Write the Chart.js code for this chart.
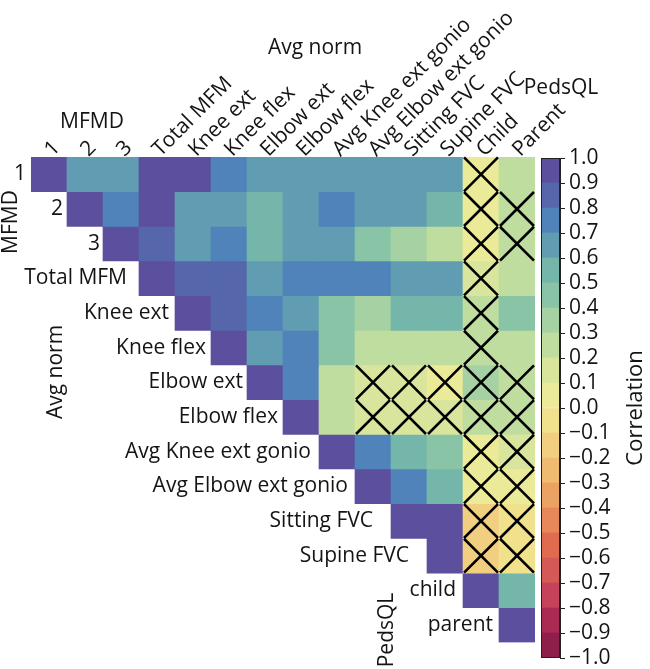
<!DOCTYPE html>
<html>
<head>
<meta charset="utf-8">
<script src="https://cdn.jsdelivr.net/npm/chart.js@4.4.1/dist/chart.umd.min.js"></script>
<style>
html,body{margin:0;padding:0;background:#fff;}
#wrap{position:relative;width:650px;height:669px;overflow:hidden;}
canvas{position:absolute;left:0;top:0;}
</style>
</head>
<body>
<div id="wrap">
<canvas id="main" width="650" height="669"></canvas>
<canvas id="cbar" width="650" height="669"></canvas>
</div>
<script>
// ---------------- DATA ----------------
const colLabels = ["1","2","3","Total MFM","Knee ext","Knee flex","Elbow ext","Elbow flex",
  "Avg Knee ext gonio","Avg Elbow ext gonio","Sitting FVC","Supine FVC","Child","Parent"];
const rowLabels = ["1","2","3","Total MFM","Knee ext","Knee flex","Elbow ext","Elbow flex",
  "Avg Knee ext gonio","Avg Elbow ext gonio","Sitting FVC","Supine FVC","child","parent"];

// upper-triangular correlation matrix (null = not shown)
const corrRow0  = [1.00,0.64,0.64,0.95,0.94,0.76,0.65,0.64,0.65,0.64,0.63,0.62,0.05,0.27];
const corrRow1  = [null,1.00,0.75,0.96,0.63,0.62,0.52,0.64,0.76,0.63,0.62,0.55,0.04,0.21];
const corrRow2  = [null,null,1.00,0.85,0.64,0.74,0.52,0.63,0.62,0.47,0.38,0.28,0.03,0.21];
const corrRow3  = [null,null,null,1.00,0.86,0.85,0.64,0.76,0.75,0.74,0.65,0.64,0.12,0.25];
const corrRow4  = [null,null,null,null,1.00,0.85,0.74,0.64,0.46,0.39,0.53,0.52,0.27,0.42];
const corrRow5  = [null,null,null,null,null,1.00,0.65,0.75,0.45,0.27,0.26,0.26,0.22,0.27];
const corrRow6  = [null,null,null,null,null,null,1.00,0.76,0.27,0.18,0.18,0.08,0.33,0.25];
const corrRow7  = [null,null,null,null,null,null,null,1.00,0.26,0.17,0.17,0.16,0.20,0.22];
const corrRow8  = [null,null,null,null,null,null,null,null,1.00,0.74,0.51,0.44,0.07,0.13];
const corrRow9  = [null,null,null,null,null,null,null,null,null,1.00,0.75,0.52,0.05,0.08];
const corrRow10 = [null,null,null,null,null,null,null,null,null,null,1.00,0.93,-0.17,-0.05];
const corrRow11 = [null,null,null,null,null,null,null,null,null,null,null,1.00,-0.18,-0.04];
const corrRow12 = [null,null,null,null,null,null,null,null,null,null,null,null,1.00,0.51];
const corrRow13 = [null,null,null,null,null,null,null,null,null,null,null,null,null,1.00];
const corr = [corrRow0,corrRow1,corrRow2,corrRow3,corrRow4,corrRow5,corrRow6,corrRow7,
  corrRow8,corrRow9,corrRow10,corrRow11,corrRow12,corrRow13];

// non-significant cells [row, col] (crossed out)
const notSignificant = [
  [0,12],[1,12],[1,13],[2,12],[2,13],[3,12],[4,12],[5,12],
  [6,9],[6,10],[6,11],[6,12],[6,13],
  [7,9],[7,10],[7,11],[7,12],[7,13],
  [8,12],[8,13],[9,12],[9,13],[10,12],[10,13],[11,12],[11,13]
];

// colour bar levels (from -1.0 to 1.0, step 0.1)
const levelEdges = [-1.0,-0.9,-0.8,-0.7,-0.6,-0.5,-0.4,-0.3,-0.2,-0.1,0.0,0.1,0.2,0.3,0.4,0.5,0.6,0.7,0.8,0.9,1.0];

// ---------------- STYLE ----------------
const levelColors = ["#8e1f4a","#aa2a53","#c5425a","#d55a55","#df6c4e","#e6885a","#eca262","#efbb70",
  "#f2cf80","#f1e08c","#ebea98","#d9e59c","#c0dda0","#a6d2a3","#8ac4a6","#74b6a9","#609db2","#4f83b9",
  "#5566aa","#5c4f9e"];
const TEXT = "#141414";
const FONT = '"Open Sans", "DejaVu Sans", sans-serif';
const rowLabelGaps = [5,4,3,12,6,5,4,5,8,7,18,18,7,6];

function colorFor(v){
  let k = Math.floor((v + 1) / 0.1 + 1e-9);
  if (k > 19) k = 19; if (k < 0) k = 0;
  return levelColors[k];
}

// ---------------- MAIN HEATMAP ----------------
const n = colLabels.length;
const cellDatasets = corr.map((row, i) => ({
  type: 'bar',
  label: rowLabels[i],
  data: row.map((v, j) => v === null ? null : [i, i + 1]),
  backgroundColor: row.map(v => v === null ? 'rgba(0,0,0,0)' : colorFor(v)),
  borderWidth: 0,
  barPercentage: 1,
  categoryPercentage: 1,
  grouped: false,
  order: 1
}));
const crossDataset = {
  type: 'scatter',
  label: 'n.s.',
  data: notSignificant.map(([i, j]) => ({x: colLabels[j], y: i + 0.5})),
  pointStyle: 'crossRot',
  pointRadius: 24,
  pointHoverRadius: 24,
  borderColor: '#000',
  backgroundColor: 'rgba(0,0,0,0)',
  borderWidth: 2.6,
  order: -1,
  clip: false
};

const mainText = {
  id: 'mainText',
  afterDraw(chart){
    const ctx = chart.ctx, xs = chart.scales.x, ys = chart.scales.y;
    const cw = xs.width / n;
    ctx.save();
    ctx.fillStyle = TEXT;
    ctx.font = '21px ' + FONT;
    ctx.textAlign = 'right';
    ctx.textBaseline = 'middle';
    rowLabels.forEach((lab, i) => {
      const left = xs.getPixelForValue(i) - cw / 2;
      ctx.fillText(lab, left - rowLabelGaps[i], ys.getPixelForValue(i + 0.5));
    });
    ctx.textAlign = 'center';
    ctx.fillText('MFMD', 92, 122);
    ctx.fillText('Avg norm', 315, 48);
    ctx.fillText('PedsQL', 561, 88);
    const vert = [['MFMD', 11, 222], ['Avg norm', 56, 372], ['PedsQL', 387, 630]];
    vert.forEach(([t, x, y]) => {
      ctx.save();
      ctx.translate(x, y);
      ctx.rotate(-Math.PI / 2);
      ctx.fillText(t, 0, 0);
      ctx.restore();
    });
    ctx.restore();
  }
};

new Chart(document.getElementById('main'), {
  type: 'bar',
  data: { labels: colLabels, datasets: [crossDataset, ...cellDatasets] },
  options: {
    responsive: false,
    animation: false,
    events: [],
    layout: { padding: { left: 31, right: 115, top: 0, bottom: 8 } },
    plugins: { legend: { display: false }, tooltip: { enabled: false } },
    scales: {
      x: {
        type: 'category',
        position: 'top',
        offset: true,
        grid: { display: false, drawTicks: false },
        border: { display: false },
        ticks: {
          autoSkip: false, minRotation: 45, maxRotation: 45,
          padding: -5, labelOffset: 17,
          font: { family: FONT, size: 21 }, color: TEXT
        },
        afterFit(s){ s.height = 157; s.paddingLeft = 0; s.paddingRight = 0; }
      },
      y: { type: 'linear', display: false, min: 0, max: 14, reverse: true }
    }
  },
  plugins: [mainText]
});

// ---------------- COLOUR BAR ----------------
const cbDatasets = levelColors.map((c, k) => ({
  data: [[levelEdges[k], levelEdges[k + 1]]],
  backgroundColor: c,
  borderWidth: 0,
  barPercentage: 1,
  categoryPercentage: 1,
  grouped: false
}));
const cbExtras = {
  id: 'cbExtras',
  afterDatasetsDraw(chart){
    const ctx = chart.ctx, a = chart.chartArea;
    ctx.save();
    ctx.strokeStyle = '#222';
    ctx.lineWidth = 1;
    ctx.strokeRect(a.left + 0.5, a.top + 0.5, a.right - a.left - 1, a.bottom - a.top - 1);
    ctx.restore();
  },
  afterDraw(chart){
    const ctx = chart.ctx, a = chart.chartArea;
    ctx.save();
    ctx.fillStyle = TEXT;
    ctx.font = '22px ' + FONT;
    ctx.textAlign = 'center';
    ctx.textBaseline = 'middle';
    ctx.translate(636, (a.top + a.bottom) / 2);
    ctx.rotate(-Math.PI / 2);
    ctx.fillText('Correlation', 0, 0);
    ctx.restore();
  }
};
new Chart(document.getElementById('cbar'), {
  type: 'bar',
  data: { labels: ['Correlation'], datasets: cbDatasets },
  options: {
    responsive: false,
    animation: false,
    events: [],
    layout: { padding: { left: 541, right: 0, top: 158, bottom: 11 } },
    plugins: { legend: { display: false }, tooltip: { enabled: false } },
    scales: {
      x: { display: false },
      y: {
        type: 'linear', position: 'right', min: -1, max: 1,
        grid: { display: true, drawOnChartArea: false, drawTicks: true, tickLength: 5, color: '#222', lineWidth: 1 },
        border: { display: true, color: '#222' },
        ticks: {
          stepSize: 0.1, autoSkip: false, maxTicksLimit: 30, padding: 4,
          font: { family: FONT, size: 21 }, color: TEXT,
          callback: (v) => { const s = Math.abs(v).toFixed(1); return v < -1e-6 ? '\u2212' + s : s; }
        },
        afterFit(s){ s.width = 90; s.paddingTop = 0; s.paddingBottom = 0; }
      }
    }
  },
  plugins: [cbExtras]
});
</script>
</body>
</html>
